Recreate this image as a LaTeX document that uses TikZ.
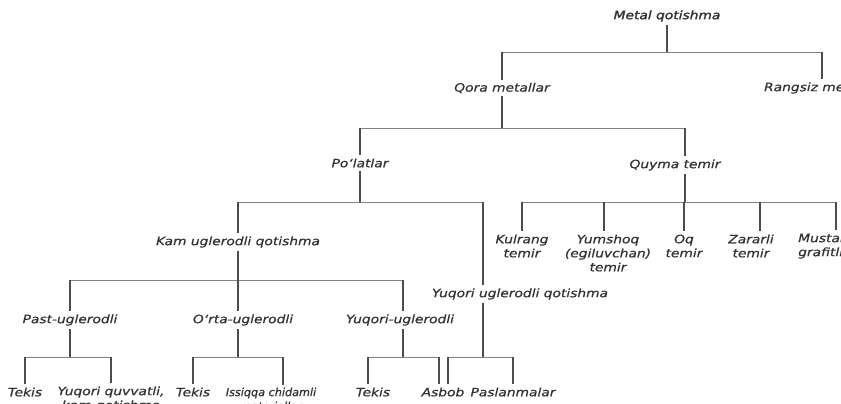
\documentclass[tikz,border=0pt]{standalone}
\usepackage{fontspec}
\newfontfamily\lblfont[FakeStretch=1.2, FakeBold=0.8]{DejaVu Sans}
\newfontfamily\topfont[FakeStretch=1.2, FakeBold=2]{DejaVu Sans}
\newfontfamily\narrowfont[FakeStretch=1.02, FakeBold=0.8]{DejaVu Sans}

\tikzset{
  lbl/.style={font=\lblfont\itshape\fontsize{11.5}{14}\selectfont, text=black!80, align=center, inner sep=3pt},
  stem/.style={draw=black!70, line width=1.6pt},
  bar/.style={draw=black!50, line width=0.9pt},
}

\begin{document}
\begin{tikzpicture}[x=1pt, y=-1pt]
\useasboundingbox (0,0) rectangle (841,404);

% levels of the horizontal bars
\coordinate (b1) at (0,52);
\coordinate (b2) at (0,128);
\coordinate (b3) at (0,202);
\coordinate (b4) at (0,280);
\coordinate (b5) at (0,357);

\node[lbl, font=\topfont\itshape\fontsize{11.5}{14}\selectfont] (root) at (667,16) {Metal qotishma};
\node[lbl] (qora)    at (502,88)  {Qora metallar};
\node[lbl] (rangsiz) at (822,88)  {Rangsiz metallar};
\node[lbl] (polat)   at (360,163) {Po‘latlar};
\node[lbl] (quyma)   at (675,165) {Quyma temir};
\node[lbl] (kam)     at (238,242) {Kam uglerodli qotishma};
\node[lbl] (yuqq)    at (520,294) {Yuqori uglerodli qotishma};
\node[lbl] (past)    at (70,320)  {Past-uglerodli};
\node[lbl] (orta)    at (243,320) {O‘rta-uglerodli};
\node[lbl] (yuqu)    at (400,320) {Yuqori-uglerodli};
\node[lbl] (tekisA)  at (25,392)  {Tekis};
\node[lbl] (quvvat)  at (111,399) {Yuqori quvvatli,\\kam qotishma};
\node[lbl] (tekisB)  at (193,392) {Tekis};
\node[lbl, font=\narrowfont\itshape\fontsize{11}{14}\selectfont] (issiq) at (271,399) {Issiqqa chidamli\\materiallar};
\node[lbl] (tekisC)  at (373,392) {Tekis};
\node[lbl] (asbob)   at (443,392) {Asbob};
\node[lbl] (paslan)  at (513,392) {Paslanmalar};
\node[lbl] (kulrang) at (522,246) {Kulrang\\temir};
\node[lbl] (yumshoq) at (608,253) {Yumshoq\\(egiluvchan)\\temir};
\node[lbl] (oq)      at (684,246) {Oq\\temir};
\node[lbl] (zararli) at (751,246) {Zararli\\temir};
\node[lbl, align=left, anchor=west] (musta) at (795,246) {Mustahkam\\grafitli};

% stems that leave the text off centre
\coordinate (quymaT)   at ([xshift=10pt]quyma.north);
\coordinate (quymaB)   at ([xshift=10pt]quyma.south);
\coordinate (yuqqT)    at ([xshift=-37pt]yuqq.north);
\coordinate (yuqqB)    at ([xshift=-37pt]yuqq.south);
\coordinate (issiqT)   at ([xshift=12pt]issiq.north);
\coordinate (zararliT) at ([xshift=9pt]zararli.north);
\coordinate (mustaT)   at ([xshift=41pt]musta.north west);
\coordinate (asbobL)   at ([xshift=-4pt]asbob.north);
\coordinate (asbobR)   at ([xshift=5pt]asbob.north);

% Metal qotishma
\draw[stem] (root) -- (root |- b1);
\draw[bar]  (qora |- b1) -- (rangsiz |- b1);
\draw[stem] (qora |- b1) -- (qora);
\draw[stem] (rangsiz |- b1) -- (rangsiz);

% Qora metallar
\draw[stem] (qora) -- (qora |- b2);
\draw[bar]  (polat |- b2) -- (quymaT |- b2);
\draw[stem] (polat |- b2) -- (polat);
\draw[stem] (quymaT |- b2) -- (quymaT);

% Po'latlar
\draw[stem] (polat) -- (polat |- b3);
\draw[bar]  (kam |- b3) -- (yuqqT |- b3);
\draw[stem] (kam |- b3) -- (kam);
\draw[stem] (yuqqT |- b3) -- (yuqqT);

% Quyma temir
\draw[stem] (quymaB) -- (quymaB |- b3);
\draw[bar]  (kulrang |- b3) -- (mustaT |- b3);
\draw[stem] (kulrang |- b3) -- (kulrang);
\draw[stem] ([xshift=-4pt]yumshoq.north |- b3) -- ([xshift=-4pt]yumshoq.north);
\draw[stem] (oq |- b3) -- (oq);
\draw[stem] (zararliT |- b3) -- (zararliT);
\draw[stem] (mustaT |- b3) -- (mustaT);

% Kam uglerodli qotishma
\draw[stem] (kam) -- (kam |- b4);
\draw[bar]  (past |- b4) -- ([xshift=3pt]yuqu.north |- b4);
\draw[stem] (past |- b4) -- (past);
\draw[stem] ([xshift=-5pt]orta.north |- b4) -- ([xshift=-5pt]orta.north);
\draw[stem] ([xshift=3pt]yuqu.north |- b4) -- ([xshift=3pt]yuqu.north);

% Past-, O'rta-, Yuqori-uglerodli
\draw[stem] (past) -- (past |- b5);
\draw[bar]  (tekisA |- b5) -- (quvvat |- b5);
\draw[stem] (tekisA |- b5) -- (tekisA);
\draw[stem] (quvvat |- b5) -- (quvvat);

\draw[stem] ([xshift=-5pt]orta.south) -- ([xshift=-5pt]orta.south |- b5);
\draw[bar]  (tekisB |- b5) -- (issiqT |- b5);
\draw[stem] (tekisB |- b5) -- (tekisB);
\draw[stem] (issiqT |- b5) -- (issiqT);

\draw[stem] ([xshift=3pt]yuqu.south) -- ([xshift=3pt]yuqu.south |- b5);
\draw[bar]  ([xshift=-5pt]tekisC.north |- b5) -- (asbobL |- b5);
\draw[stem] ([xshift=-5pt]tekisC.north |- b5) -- ([xshift=-5pt]tekisC.north);
\draw[stem] (asbobL |- b5) -- (asbobL);

% Yuqori uglerodli qotishma
\draw[stem] (yuqqB) -- (yuqqB |- b5);
\draw[bar]  (asbobR |- b5) -- (paslan |- b5);
\draw[stem] (asbobR |- b5) -- (asbobR);
\draw[stem] (paslan |- b5) -- (paslan);
\end{tikzpicture}
\end{document}
